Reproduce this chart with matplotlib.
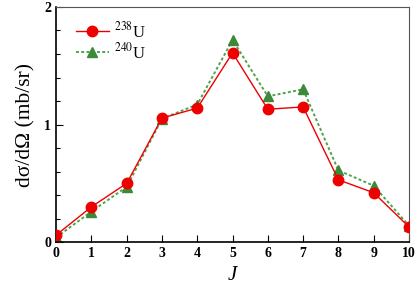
import matplotlib
matplotlib.use("Agg")
import matplotlib.pyplot as plt

plt.rcParams["font.family"] = ["Liberation Serif", "DejaVu Serif"]
plt.rcParams["mathtext.fontset"] = "stix"

J = [0, 1, 2, 3, 4, 5, 6, 7, 8, 9, 10]
u238 = [0.06, 0.30, 0.50, 1.055, 1.14, 1.61, 1.13, 1.15, 0.53, 0.42, 0.13]
u240 = [0.04, 0.26, 0.47, 1.05, 1.17, 1.72, 1.24, 1.30, 0.61, 0.48, 0.14]

fig = plt.figure(figsize=(4.16, 2.91), dpi=100)
ax = fig.add_axes([0.135, 0.168, 0.848, 0.808])

ax.plot(J, u238, "-o", color="#ee0000", lw=1.0, ms=7.5, label=r"$^{238}$U", zorder=3)
ax.plot(J, u240, "^", color="#4fa34f", ls=(0, (1.5, 1.2)), lw=1.4, ms=7.5,
        mfc="#3a8a3a", mec="#3a8a3a", label=r"$^{240}$U", zorder=2)

ax.set_xlim(0, 10)
ax.set_ylim(0, 2)
ax.set_xticks(J)
ax.set_yticks([0, 1, 2])
ax.set_yticks([0.2, 0.4, 0.6, 0.8, 1.2, 1.4, 1.6, 1.8], minor=True)
ax.tick_params(direction="in", which="both", labelsize=10, width=0.8)
ax.tick_params(which="major", length=5)
ax.tick_params(which="minor", length=3)
for lab in ax.get_xticklabels() + ax.get_yticklabels():
    lab.set_fontweight("bold")
for s in ["top", "right"]:
    ax.spines[s].set_color("#555555")
for s in ["left", "bottom"]:
    ax.spines[s].set_linewidth(1.2)

ax.set_xlabel("J", fontsize=15, style="italic", labelpad=4)
ax.set_ylabel("dσ/dΩ (mb/sr)", fontsize=15.5, labelpad=6)
ax.legend(loc="upper left", frameon=False, fontsize=12, handlelength=2.0,
          handletextpad=0.3, borderaxespad=0, borderpad=0,
          bbox_to_anchor=(0.055, 0.94), labelspacing=0.05)

fig.savefig("out.png", dpi=100)
